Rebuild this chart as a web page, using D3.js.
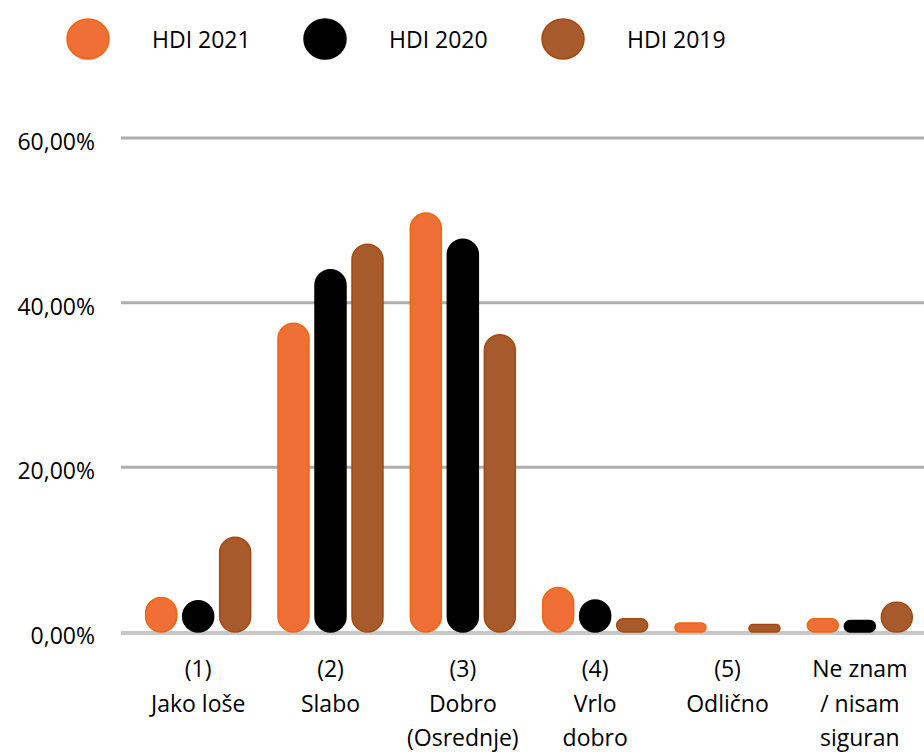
<!DOCTYPE html>
<html>
<head>
<meta charset="utf-8">
<script src="https://cdn.jsdelivr.net/npm/d3@7"></script>
<style>
  body { margin: 0; background: #fff; }
  svg { display: block; font-family: "Open Sans", sans-serif; }
</style>
</head>
<body>
<div id="graph"></div>
<script>
// categories, each one a list of label lines
const categories = [
  ["(1)", "Jako loše"],
  ["(2)", "Slabo"],
  ["(3)", "Dobro", "(Osrednje)"],
  ["(4)", "Vrlo", "dobro"],
  ["(5)", "Odlično"],
  ["Ne znam", "/ nisam", "siguran"]
];
const seriesNames = ["HDI 2021", "HDI 2020", "HDI 2019"];
const hdi2021 = [4.2, 37.5, 50.9, 5.4, 1.1, 1.6];
const hdi2020 = [3.8, 44.0, 47.7, 3.9, 0, 1.4];
const hdi2019 = [11.5, 47.1, 36.1, 1.6, 0.9, 3.6];
const yTicks = [0, 20, 40, 60];

const colors = {
  "HDI 2021": { fill: "#ef6f37", stroke: "#f06510" },
  "HDI 2020": { fill: "#000000", stroke: "#000000" },
  "HDI 2019": { fill: "#a75b2c", stroke: "#a84810" }
};

const width = 924;
const height = 752;

const svg = d3.select("#graph").append("svg")
    .attr("width", width)
    .attr("height", height);

const yScale = d3.scaleLinear().domain([0, 60]).range([632, 138]);

const xScale = d3.scaleBand()
    .domain(categories.map((d, i) => i))
    .range([132, 926])
    .padding(0);

// sub-band for the three series inside each category
const xSub = d3.scaleBand()
    .domain(seriesNames)
    .range([-52.5, 52.5])
    .paddingInner(0.162)
    .paddingOuter(0);

// gridlines
svg.append("g")
  .selectAll("line")
  .data(yTicks.filter(t => t > 0))
  .enter().append("line")
    .attr("x1", 121)
    .attr("x2", width)
    .attr("y1", d => yScale(d))
    .attr("y2", d => yScale(d))
    .attr("stroke", "#aeaeae")
    .attr("stroke-width", 3);

// baseline
svg.append("line")
    .attr("x1", 121)
    .attr("x2", width)
    .attr("y1", yScale(0) + 1)
    .attr("y2", yScale(0) + 1)
    .attr("stroke", "#c8c8c8")
    .attr("stroke-width", 4);

// y labels
svg.append("g")
  .selectAll("text")
  .data(yTicks)
  .enter().append("text")
    .attr("x", 95)
    .attr("y", d => yScale(d) + 12)
    .attr("text-anchor", "end")
    .attr("font-size", "23px")
    .attr("fill", "#000")
    .text(d => d3.format(".2f")(d).replace(".", ",") + "%");

// bars
const series = [
  { name: "HDI 2021", values: hdi2021 },
  { name: "HDI 2020", values: hdi2020 },
  { name: "HDI 2019", values: hdi2019 }
];

const bw = xSub.bandwidth();
series.forEach(s => {
  svg.append("g")
    .selectAll("rect")
    .data(s.values.map((v, i) => ({ v: v, i: i })).filter(d => d.v > 0))
    .enter().append("rect")
      .attr("x", d => xScale(d.i) + xScale.bandwidth() / 2 + xSub(s.name))
      .attr("y", d => yScale(d.v))
      .attr("width", bw)
      .attr("height", d => yScale(0) - yScale(d.v))
      .attr("rx", d => Math.min(bw / 2, (yScale(0) - yScale(d.v)) / 2))
      .attr("ry", d => Math.min(bw / 2, (yScale(0) - yScale(d.v)) / 2))
      .attr("fill", colors[s.name].fill)
      .attr("stroke", colors[s.name].stroke)
      .attr("stroke-width", 1.5);
});

// category labels
const labels = svg.append("g")
  .selectAll("text")
  .data(categories)
  .enter().append("text")
    .attr("text-anchor", "middle")
    .attr("font-size", "23px")
    .attr("fill", "#000")
    .attr("transform", (d, i) => `translate(${xScale(i) + xScale.bandwidth() / 2}, 677)`);

labels.selectAll("tspan")
  .data(d => d)
  .enter().append("tspan")
    .attr("x", 0)
    .attr("y", (d, j) => j * 34.5)
    .text(d => d);

// legend
const legendX = [88, 325, 563];
const legend = svg.append("g")
  .selectAll("g")
  .data(seriesNames)
  .enter().append("g")
    .attr("transform", (d, i) => `translate(${legendX[i]}, 39)`);

legend.append("ellipse")
    .attr("rx", 21)
    .attr("ry", 20)
    .attr("fill", d => colors[d].fill)
    .attr("stroke", d => colors[d].stroke)
    .attr("stroke-width", 1.5);

legend.append("text")
    .attr("x", 64)
    .attr("y", 9)
    .attr("font-size", "23px")
    .attr("fill", "#000")
    .text(d => d);
</script>
</body>
</html>
